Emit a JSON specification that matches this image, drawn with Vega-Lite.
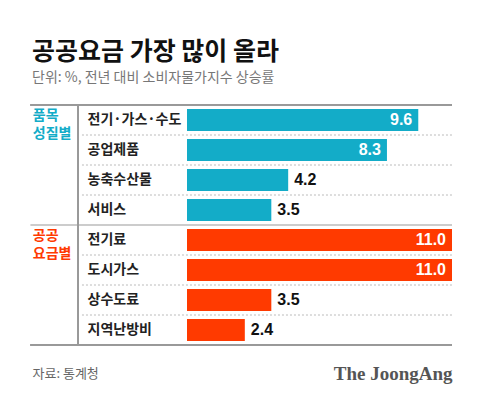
{
  "$schema": "https://vega.github.io/schema/vega-lite/v6.json",
  "autosize": "none",
  "width": 265,
  "height": 240,
  "padding": {"left": 187, "top": 105, "right": 28, "bottom": 57},
  "background": "white",
  "config": {"view": {"stroke": null}, "font": "Noto Sans CJK KR"},
  "title": {
    "text": "공공요금 가장 많이 올라",
    "subtitle": "단위: %, 전년 대비 소비자물가지수 상승률",
    "anchor": "start",
    "frame": "group",
    "dx": -155,
    "offset": 20,
    "font": "Noto Sans CJK KR",
    "fontSize": 25,
    "fontWeight": "bold",
    "color": "#111111",
    "subtitleFont": "Noto Sans CJK KR",
    "subtitleFontSize": 14,
    "subtitleColor": "#777777",
    "subtitlePadding": 6
  },
  "data": {
    "values": [
      {"cat": "전기·가스·수도", "grp": "품목\n성질별", "v": 9.6},
      {"cat": "공업제품", "grp": "품목\n성질별", "v": 8.3},
      {"cat": "농축수산물", "grp": "품목\n성질별", "v": 4.2},
      {"cat": "서비스", "grp": "품목\n성질별", "v": 3.5},
      {"cat": "전기료", "grp": "공공\n요금별", "v": 11.0},
      {"cat": "도시가스", "grp": "공공\n요금별", "v": 11.0},
      {"cat": "상수도료", "grp": "공공\n요금별", "v": 3.5},
      {"cat": "지역난방비", "grp": "공공\n요금별", "v": 2.4}
    ]
  },
  "layer": [
    {
      "mark": {"type": "bar", "height": {"band": 0.733}},
      "encoding": {
        "y": {
          "field": "cat", "type": "nominal", "sort": null,
          "scale": {"padding": 0},
          "axis": {
            "title": "자료: 통계청",
            "titleAngle": 0, "titleX": -155, "titleY": 268,
            "titleAlign": "left", "titleBaseline": "middle",
            "titleColor": "#666666", "titleFontSize": 13, "titleFontWeight": "normal",
            "titleFont": "Noto Sans CJK KR",
            "labelAlign": "left", "labelPadding": 100, "ticks": false, "domain": false,
            "labelFontSize": 14, "labelColor": "#222222", "labelFont": "Noto Sans CJK KR",
            "labelFontWeight": "bold"
          }
        },
        "x": {
          "field": "v", "type": "quantitative",
          "scale": {"domain": [0, 11], "nice": false, "zero": true},
          "axis": {
            "labels": false, "ticks": false, "domain": false, "grid": false,
            "title": "The JoongAng",
            "titleX": 265, "titleY": 28, "titleAlign": "right", "titleBaseline": "middle",
            "titleFont": "Liberation Serif", "titleFontSize": 19, "titleFontWeight": "bold",
            "titleColor": "#555555"
          }
        },
        "color": {
          "field": "grp", "type": "nominal",
          "scale": {"domain": ["품목\n성질별", "공공\n요금별"], "range": ["#13acc8", "#ff3a00"]},
          "legend": null
        }
      }
    },
    {
      "transform": [{"filter": "datum.v >= 8"}],
      "mark": {"type": "text", "align": "right", "baseline": "middle", "dx": -6, "font": "Liberation Sans", "fontSize": 16, "fontWeight": "bold", "color": "white"},
      "encoding": {
        "y": {"field": "cat", "type": "nominal", "sort": null},
        "x": {"field": "v", "type": "quantitative", "scale": {"domain": [0, 11], "nice": false}},
        "text": {"field": "v", "type": "quantitative", "format": ".1f"}
      }
    },
    {
      "transform": [{"filter": "datum.v < 8"}],
      "mark": {"type": "text", "align": "left", "baseline": "middle", "dx": 6, "font": "Liberation Sans", "fontSize": 16, "fontWeight": "bold", "color": "#111111"},
      "encoding": {
        "y": {"field": "cat", "type": "nominal", "sort": null},
        "x": {"field": "v", "type": "quantitative", "scale": {"domain": [0, 11], "nice": false}},
        "text": {"field": "v", "type": "quantitative", "format": ".1f"}
      }
    },
    {
      "transform": [{"filter": {"field": "cat", "oneOf": ["전기·가스·수도", "전기료"]}}],
      "mark": {"type": "text", "align": "left", "baseline": "top", "yOffset": 4, "lineBreak": "\n", "lineHeight": 18, "fontSize": 14, "fontWeight": "bold", "font": "Noto Sans CJK KR"},
      "encoding": {
        "y": {"field": "cat", "type": "nominal", "sort": null, "bandPosition": 0},
        "x": {"datum": -6.4, "type": "quantitative", "scale": {"domain": [0, 11], "nice": false}},
        "text": {"field": "grp"},
        "color": {"field": "grp", "type": "nominal", "legend": null}
      }
    },
    {
      "transform": [{"filter": {"not": {"field": "cat", "oneOf": ["전기·가스·수도", "전기료"]}}}],
      "mark": {"type": "rule", "color": "#bbbbbb", "strokeDash": [2, 2], "strokeWidth": 1},
      "encoding": {
        "y": {"field": "cat", "type": "nominal", "sort": null, "bandPosition": 0},
        "x": {"datum": -4.36, "type": "quantitative", "scale": {"domain": [0, 11], "nice": false}},
        "x2": {"datum": 11}
      }
    },
    {
      "transform": [{"filter": {"field": "cat", "equal": "전기료"}}],
      "mark": {"type": "rule", "color": "#999999", "strokeWidth": 1},
      "encoding": {
        "y": {"field": "cat", "type": "nominal", "sort": null, "bandPosition": 0},
        "x": {"datum": -6.5, "type": "quantitative", "scale": {"domain": [0, 11], "nice": false}},
        "x2": {"datum": 11}
      }
    },
    {
      "mark": {"type": "rule", "color": "#999999", "strokeWidth": 1},
      "encoding": {
        "y": {"value": 0},
        "x": {"datum": -6.5, "type": "quantitative", "scale": {"domain": [0, 11], "nice": false}},
        "x2": {"datum": 11}
      }
    },
    {
      "mark": {"type": "rule", "color": "#999999", "strokeWidth": 1},
      "encoding": {
        "y": {"value": "height"},
        "x": {"datum": -6.5, "type": "quantitative", "scale": {"domain": [0, 11], "nice": false}},
        "x2": {"datum": 11}
      }
    },
    {
      "mark": {"type": "rule", "color": "#999999", "strokeWidth": 1},
      "encoding": {
        "x": {"datum": -4.52, "type": "quantitative", "scale": {"domain": [0, 11], "nice": false}},
        "y": {"value": 0},
        "y2": {"value": "height"}
      }
    }
  ]
}
